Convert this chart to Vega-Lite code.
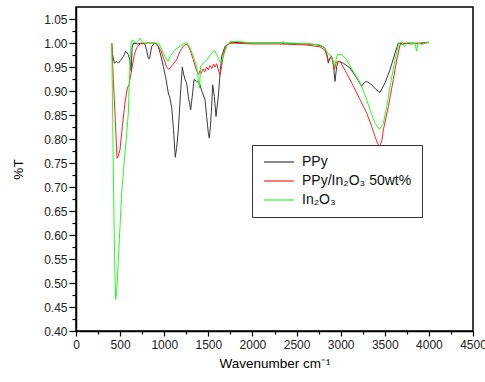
{
  "$schema": "https://vega.github.io/schema/vega-lite/v6.json",
  "width": 397,
  "height": 324,
  "autosize": {"type": "none"},
  "padding": {"left": 76, "top": 7, "right": 12, "bottom": 51},
  "background": "white",
  "config": {
    "font": "Liberation Sans",
    "view": {"stroke": "black", "strokeWidth": 1.5},
    "axis": {
      "domainColor": "black", "domainWidth": 1.5,
      "tickColor": "black", "tickWidth": 1.2,
      "labelColor": "#222222", "labelFont": "Liberation Sans", "labelFontSize": 12,
      "titleColor": "black", "titleFont": "Liberation Sans", "titleFontSize": 13.5, "titleFontWeight": "normal",
      "grid": false, "labelOverlap": false, "labelFlush": false
    }
  },
  "data": {
    "values": [
      {"s":"PPy","w":405,"t":1.000},{"s":"PPy","w":415,"t":0.975},{"s":"PPy","w":435,"t":0.958},{"s":"PPy","w":461,"t":0.962},{"s":"PPy","w":480,"t":0.958},{"s":"PPy","w":507,"t":0.964},{"s":"PPy","w":537,"t":0.972},{"s":"PPy","w":563,"t":0.983},{"s":"PPy","w":593,"t":0.976},{"s":"PPy","w":610,"t":0.965},{"s":"PPy","w":625,"t":0.941},{"s":"PPy","w":636,"t":0.990},{"s":"PPy","w":650,"t":1.000},{"s":"PPy","w":700,"t":0.998},{"s":"PPy","w":740,"t":1.000},{"s":"PPy","w":780,"t":0.998},{"s":"PPy","w":800,"t":0.985},{"s":"PPy","w":820,"t":0.968},{"s":"PPy","w":835,"t":0.968},{"s":"PPy","w":858,"t":0.993},{"s":"PPy","w":895,"t":1.000},{"s":"PPy","w":926,"t":0.996},{"s":"PPy","w":960,"t":0.975},{"s":"PPy","w":990,"t":0.951},{"s":"PPy","w":1020,"t":0.925},{"s":"PPy","w":1046,"t":0.896},{"s":"PPy","w":1065,"t":0.885},{"s":"PPy","w":1085,"t":0.865},{"s":"PPy","w":1105,"t":0.820},{"s":"PPy","w":1125,"t":0.762},{"s":"PPy","w":1140,"t":0.780},{"s":"PPy","w":1160,"t":0.819},{"s":"PPy","w":1187,"t":0.903},{"s":"PPy","w":1205,"t":0.950},{"s":"PPy","w":1220,"t":0.935},{"s":"PPy","w":1236,"t":0.924},{"s":"PPy","w":1254,"t":0.917},{"s":"PPy","w":1273,"t":0.889},{"s":"PPy","w":1300,"t":0.861},{"s":"PPy","w":1322,"t":0.896},{"s":"PPy","w":1338,"t":0.924},{"s":"PPy","w":1368,"t":0.920},{"s":"PPy","w":1398,"t":0.917},{"s":"PPy","w":1428,"t":0.899},{"s":"PPy","w":1462,"t":0.882},{"s":"PPy","w":1481,"t":0.847},{"s":"PPy","w":1500,"t":0.812},{"s":"PPy","w":1511,"t":0.802},{"s":"PPy","w":1525,"t":0.830},{"s":"PPy","w":1538,"t":0.868},{"s":"PPy","w":1549,"t":0.913},{"s":"PPy","w":1568,"t":0.889},{"s":"PPy","w":1587,"t":0.847},{"s":"PPy","w":1613,"t":0.889},{"s":"PPy","w":1632,"t":0.934},{"s":"PPy","w":1651,"t":0.972},{"s":"PPy","w":1689,"t":0.993},{"s":"PPy","w":1746,"t":1.000},{"s":"PPy","w":1800,"t":1.001},{"s":"PPy","w":2000,"t":1.000},{"s":"PPy","w":2300,"t":1.000},{"s":"PPy","w":2500,"t":0.999},{"s":"PPy","w":2700,"t":0.997},{"s":"PPy","w":2766,"t":0.995},{"s":"PPy","w":2822,"t":0.990},{"s":"PPy","w":2845,"t":0.975},{"s":"PPy","w":2860,"t":0.958},{"s":"PPy","w":2880,"t":0.970},{"s":"PPy","w":2898,"t":0.972},{"s":"PPy","w":2915,"t":0.960},{"s":"PPy","w":2936,"t":0.920},{"s":"PPy","w":2955,"t":0.951},{"s":"PPy","w":2974,"t":0.962},{"s":"PPy","w":3030,"t":0.958},{"s":"PPy","w":3106,"t":0.948},{"s":"PPy","w":3182,"t":0.927},{"s":"PPy","w":3238,"t":0.910},{"s":"PPy","w":3270,"t":0.918},{"s":"PPy","w":3295,"t":0.920},{"s":"PPy","w":3352,"t":0.913},{"s":"PPy","w":3400,"t":0.903},{"s":"PPy","w":3446,"t":0.897},{"s":"PPy","w":3503,"t":0.917},{"s":"PPy","w":3559,"t":0.944},{"s":"PPy","w":3616,"t":0.979},{"s":"PPy","w":3654,"t":1.000},{"s":"PPy","w":3700,"t":0.998},{"s":"PPy","w":3800,"t":1.000},{"s":"PPy","w":3900,"t":0.999},{"s":"PPy","w":4000,"t":1.001},

      {"s":"PPy/In₂O₃ 50wt%","w":405,"t":1.000},{"s":"PPy/In₂O₃ 50wt%","w":415,"t":0.960},{"s":"PPy/In₂O₃ 50wt%","w":423,"t":0.924},{"s":"PPy/In₂O₃ 50wt%","w":442,"t":0.854},{"s":"PPy/In₂O₃ 50wt%","w":455,"t":0.800},{"s":"PPy/In₂O₃ 50wt%","w":465,"t":0.760},{"s":"PPy/In₂O₃ 50wt%","w":480,"t":0.765},{"s":"PPy/In₂O₃ 50wt%","w":499,"t":0.778},{"s":"PPy/In₂O₃ 50wt%","w":525,"t":0.826},{"s":"PPy/In₂O₃ 50wt%","w":555,"t":0.875},{"s":"PPy/In₂O₃ 50wt%","w":582,"t":0.906},{"s":"PPy/In₂O₃ 50wt%","w":601,"t":0.913},{"s":"PPy/In₂O₃ 50wt%","w":631,"t":0.944},{"s":"PPy/In₂O₃ 50wt%","w":661,"t":0.976},{"s":"PPy/In₂O₃ 50wt%","w":688,"t":0.990},{"s":"PPy/In₂O₃ 50wt%","w":725,"t":0.998},{"s":"PPy/In₂O₃ 50wt%","w":800,"t":1.000},{"s":"PPy/In₂O₃ 50wt%","w":895,"t":1.000},{"s":"PPy/In₂O₃ 50wt%","w":933,"t":0.993},{"s":"PPy/In₂O₃ 50wt%","w":960,"t":0.985},{"s":"PPy/In₂O₃ 50wt%","w":990,"t":0.970},{"s":"PPy/In₂O₃ 50wt%","w":1028,"t":0.950},{"s":"PPy/In₂O₃ 50wt%","w":1050,"t":0.945},{"s":"PPy/In₂O₃ 50wt%","w":1075,"t":0.950},{"s":"PPy/In₂O₃ 50wt%","w":1110,"t":0.958},{"s":"PPy/In₂O₃ 50wt%","w":1141,"t":0.965},{"s":"PPy/In₂O₃ 50wt%","w":1179,"t":0.983},{"s":"PPy/In₂O₃ 50wt%","w":1216,"t":0.993},{"s":"PPy/In₂O₃ 50wt%","w":1247,"t":0.998},{"s":"PPy/In₂O₃ 50wt%","w":1270,"t":0.995},{"s":"PPy/In₂O₃ 50wt%","w":1292,"t":0.986},{"s":"PPy/In₂O₃ 50wt%","w":1330,"t":0.965},{"s":"PPy/In₂O₃ 50wt%","w":1368,"t":0.941},{"s":"PPy/In₂O₃ 50wt%","w":1390,"t":0.935},{"s":"PPy/In₂O₃ 50wt%","w":1405,"t":0.942},{"s":"PPy/In₂O₃ 50wt%","w":1420,"t":0.937},{"s":"PPy/In₂O₃ 50wt%","w":1440,"t":0.946},{"s":"PPy/In₂O₃ 50wt%","w":1460,"t":0.940},{"s":"PPy/In₂O₃ 50wt%","w":1480,"t":0.950},{"s":"PPy/In₂O₃ 50wt%","w":1500,"t":0.944},{"s":"PPy/In₂O₃ 50wt%","w":1520,"t":0.953},{"s":"PPy/In₂O₃ 50wt%","w":1540,"t":0.947},{"s":"PPy/In₂O₃ 50wt%","w":1560,"t":0.956},{"s":"PPy/In₂O₃ 50wt%","w":1576,"t":0.950},{"s":"PPy/In₂O₃ 50wt%","w":1595,"t":0.957},{"s":"PPy/In₂O₃ 50wt%","w":1613,"t":0.944},{"s":"PPy/In₂O₃ 50wt%","w":1632,"t":0.934},{"s":"PPy/In₂O₃ 50wt%","w":1651,"t":0.951},{"s":"PPy/In₂O₃ 50wt%","w":1670,"t":0.976},{"s":"PPy/In₂O₃ 50wt%","w":1708,"t":0.996},{"s":"PPy/In₂O₃ 50wt%","w":1746,"t":1.000},{"s":"PPy/In₂O₃ 50wt%","w":2000,"t":0.998},{"s":"PPy/In₂O₃ 50wt%","w":2300,"t":0.998},{"s":"PPy/In₂O₃ 50wt%","w":2600,"t":0.996},{"s":"PPy/In₂O₃ 50wt%","w":2766,"t":0.992},{"s":"PPy/In₂O₃ 50wt%","w":2822,"t":0.985},{"s":"PPy/In₂O₃ 50wt%","w":2850,"t":0.970},{"s":"PPy/In₂O₃ 50wt%","w":2860,"t":0.962},{"s":"PPy/In₂O₃ 50wt%","w":2879,"t":0.969},{"s":"PPy/In₂O₃ 50wt%","w":2900,"t":0.968},{"s":"PPy/In₂O₃ 50wt%","w":2930,"t":0.945},{"s":"PPy/In₂O₃ 50wt%","w":2950,"t":0.960},{"s":"PPy/In₂O₃ 50wt%","w":2993,"t":0.962},{"s":"PPy/In₂O₃ 50wt%","w":3068,"t":0.937},{"s":"PPy/In₂O₃ 50wt%","w":3144,"t":0.910},{"s":"PPy/In₂O₃ 50wt%","w":3219,"t":0.882},{"s":"PPy/In₂O₃ 50wt%","w":3295,"t":0.854},{"s":"PPy/In₂O₃ 50wt%","w":3352,"t":0.826},{"s":"PPy/In₂O₃ 50wt%","w":3389,"t":0.805},{"s":"PPy/In₂O₃ 50wt%","w":3420,"t":0.790},{"s":"PPy/In₂O₃ 50wt%","w":3440,"t":0.785},{"s":"PPy/In₂O₃ 50wt%","w":3465,"t":0.795},{"s":"PPy/In₂O₃ 50wt%","w":3484,"t":0.819},{"s":"PPy/In₂O₃ 50wt%","w":3541,"t":0.868},{"s":"PPy/In₂O₃ 50wt%","w":3597,"t":0.924},{"s":"PPy/In₂O₃ 50wt%","w":3635,"t":0.965},{"s":"PPy/In₂O₃ 50wt%","w":3673,"t":0.996},{"s":"PPy/In₂O₃ 50wt%","w":3700,"t":1.000},{"s":"PPy/In₂O₃ 50wt%","w":3800,"t":0.998},{"s":"PPy/In₂O₃ 50wt%","w":3900,"t":1.000},{"s":"PPy/In₂O₃ 50wt%","w":4000,"t":1.001},

      {"s":"In₂O₃","w":405,"t":1.000},{"s":"In₂O₃","w":412,"t":0.900},{"s":"In₂O₃","w":420,"t":0.780},{"s":"In₂O₃","w":430,"t":0.640},{"s":"In₂O₃","w":440,"t":0.530},{"s":"In₂O₃","w":450,"t":0.466},{"s":"In₂O₃","w":461,"t":0.480},{"s":"In₂O₃","w":480,"t":0.549},{"s":"In₂O₃","w":499,"t":0.618},{"s":"In₂O₃","w":518,"t":0.687},{"s":"In₂O₃","w":548,"t":0.757},{"s":"In₂O₃","w":570,"t":0.800},{"s":"In₂O₃","w":593,"t":0.854},{"s":"In₂O₃","w":612,"t":0.958},{"s":"In₂O₃","w":623,"t":0.995},{"s":"In₂O₃","w":635,"t":1.006},{"s":"In₂O₃","w":650,"t":1.005},{"s":"In₂O₃","w":680,"t":1.000},{"s":"In₂O₃","w":700,"t":1.003},{"s":"In₂O₃","w":725,"t":1.010},{"s":"In₂O₃","w":745,"t":1.004},{"s":"In₂O₃","w":770,"t":1.000},{"s":"In₂O₃","w":850,"t":1.000},{"s":"In₂O₃","w":933,"t":1.000},{"s":"In₂O₃","w":960,"t":0.992},{"s":"In₂O₃","w":990,"t":0.979},{"s":"In₂O₃","w":1028,"t":0.965},{"s":"In₂O₃","w":1046,"t":0.962},{"s":"In₂O₃","w":1066,"t":0.972},{"s":"In₂O₃","w":1122,"t":0.986},{"s":"In₂O₃","w":1179,"t":0.993},{"s":"In₂O₃","w":1236,"t":1.000},{"s":"In₂O₃","w":1260,"t":1.000},{"s":"In₂O₃","w":1292,"t":0.990},{"s":"In₂O₃","w":1330,"t":0.972},{"s":"In₂O₃","w":1368,"t":0.951},{"s":"In₂O₃","w":1387,"t":0.924},{"s":"In₂O₃","w":1398,"t":0.906},{"s":"In₂O₃","w":1413,"t":0.951},{"s":"In₂O₃","w":1443,"t":0.958},{"s":"In₂O₃","w":1470,"t":0.962},{"s":"In₂O₃","w":1500,"t":0.969},{"s":"In₂O₃","w":1538,"t":0.979},{"s":"In₂O₃","w":1568,"t":0.985},{"s":"In₂O₃","w":1590,"t":0.978},{"s":"In₂O₃","w":1613,"t":0.969},{"s":"In₂O₃","w":1640,"t":0.958},{"s":"In₂O₃","w":1670,"t":0.972},{"s":"In₂O₃","w":1708,"t":0.993},{"s":"In₂O₃","w":1746,"t":1.003},{"s":"In₂O₃","w":1850,"t":1.003},{"s":"In₂O₃","w":2000,"t":1.000},{"s":"In₂O₃","w":2340,"t":1.000},{"s":"In₂O₃","w":2350,"t":1.004},{"s":"In₂O₃","w":2360,"t":1.000},{"s":"In₂O₃","w":2600,"t":0.999},{"s":"In₂O₃","w":2766,"t":0.996},{"s":"In₂O₃","w":2822,"t":0.990},{"s":"In₂O₃","w":2850,"t":0.978},{"s":"In₂O₃","w":2879,"t":0.976},{"s":"In₂O₃","w":2917,"t":0.962},{"s":"In₂O₃","w":2932,"t":0.951},{"s":"In₂O₃","w":2962,"t":0.976},{"s":"In₂O₃","w":3011,"t":0.976},{"s":"In₂O₃","w":3068,"t":0.965},{"s":"In₂O₃","w":3144,"t":0.941},{"s":"In₂O₃","w":3219,"t":0.917},{"s":"In₂O₃","w":3276,"t":0.892},{"s":"In₂O₃","w":3333,"t":0.861},{"s":"In₂O₃","w":3389,"t":0.833},{"s":"In₂O₃","w":3439,"t":0.820},{"s":"In₂O₃","w":3484,"t":0.833},{"s":"In₂O₃","w":3522,"t":0.868},{"s":"In₂O₃","w":3567,"t":0.917},{"s":"In₂O₃","w":3616,"t":0.965},{"s":"In₂O₃","w":3654,"t":0.996},{"s":"In₂O₃","w":3690,"t":1.003},{"s":"In₂O₃","w":3710,"t":0.995},{"s":"In₂O₃","w":3730,"t":0.993},{"s":"In₂O₃","w":3760,"t":1.002},{"s":"In₂O₃","w":3800,"t":0.998},{"s":"In₂O₃","w":3840,"t":1.000},{"s":"In₂O₃","w":3862,"t":0.983},{"s":"In₂O₃","w":3875,"t":1.000},{"s":"In₂O₃","w":3920,"t":0.997},{"s":"In₂O₃","w":4000,"t":1.002}
    ]
  },
  "mark": {"type": "line", "strokeWidth": 1, "clip": true},
  "encoding": {
    "x": {
      "field": "w", "type": "quantitative",
      "scale": {"domain": [0, 4500], "nice": false, "zero": false},
      "axis": {
        "title": "Wavenumber cm⁻¹",
        "values": [0,250,500,750,1000,1250,1500,1750,2000,2250,2500,2750,3000,3250,3500,3750,4000,4250,4500],
        "labelExpr": "datum.value % 500 === 0 ? format(datum.value, 'd') : ''",
        "tickSize": {"condition": {"test": "datum.value % 500 !== 0", "value": 3}, "value": 5},
        "labelPadding": 3,
        "titlePadding": 6
      }
    },
    "y": {
      "field": "t", "type": "quantitative",
      "scale": {"domain": [0.4, 1.075], "nice": false, "zero": false},
      "axis": {
        "title": "%T",
        "values": [0.4,0.425,0.45,0.475,0.5,0.525,0.55,0.575,0.6,0.625,0.65,0.675,0.7,0.725,0.75,0.775,0.8,0.825,0.85,0.875,0.9,0.925,0.95,0.975,1.0,1.025,1.05],
        "labelExpr": "round(datum.value * 40) % 2 === 0 ? format(datum.value, '.2f') : ''",
        "tickSize": {"condition": {"test": "round(datum.value * 40) % 2 === 1", "value": 4}, "value": 7},
        "labelPadding": 2,
        "titlePadding": 18
      }
    },
    "color": {
      "field": "s", "type": "nominal",
      "scale": {"domain": ["PPy", "PPy/In₂O₃ 50wt%", "In₂O₃"], "range": ["#3a3a3a", "#ff2020", "#20ff20"]},
      "legend": {
        "title": null,
        "orient": "none", "legendX": 176, "legendY": 138,
        "strokeColor": "#333333", "padding": 10,
        "symbolType": "M-1,0H5", "symbolSize": 100, "symbolStrokeWidth": 1.2,
        "labelFont": "Liberation Sans", "labelFontSize": 14, "labelColor": "#111111",
        "labelOffset": 26, "rowPadding": 5
      }
    }
  }
}
